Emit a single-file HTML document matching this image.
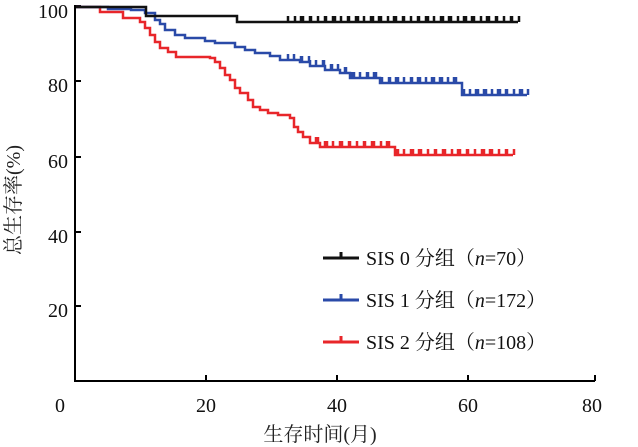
<!DOCTYPE html>
<html><head><meta charset="utf-8"><style>
html,body{margin:0;padding:0;background:#fff;}
svg{display:block;font-family:"Liberation Serif","Noto Serif CJK SC",serif;}
</style></head><body>
<svg id="s" width="638" height="447" viewBox="0 0 638 447" xmlns="http://www.w3.org/2000/svg">
<g stroke="#000" stroke-width="2" fill="none">
<path d="M75,5 V381 H595"/>
<path d="M75,6 h6 M75,81 h6 M75,157 h6 M75,232 h6 M75,306 h6"/>
<path d="M206,381 v-6 M337,381 v-6 M468,381 v-6 M595,381 v-6"/>
</g>
<g font-size="20" fill="#111" text-anchor="end">
<text x="68" y="18">100</text><text x="68" y="92">80</text><text x="68" y="168">60</text><text x="68" y="243">40</text><text x="68" y="317">20</text>
</g>
<g font-size="20" fill="#111" text-anchor="middle">
<text x="60" y="412">0</text><text x="206" y="412">20</text><text x="337" y="412">40</text><text x="468" y="412">60</text><text x="592" y="412">80</text>
</g>
<text x="320" y="441" font-size="20" fill="#222" text-anchor="middle">生存时间(月)</text>
<text transform="translate(20,200) rotate(-90)" font-size="20" fill="#222" text-anchor="middle">总生存率(%)</text>
<g font-size="20" fill="#111">
<path d="M323,258 h36 M341,258 v-6" stroke="#111" stroke-width="3"/>
<text x="366" y="265">SIS 0 分组（<tspan font-style="italic">n</tspan>=70）</text>
<path d="M323,300 h36 M341,300 v-6" stroke="#2a4aa8" stroke-width="3"/>
<text x="366" y="307">SIS 1 分组（<tspan font-style="italic">n</tspan>=172）</text>
<path d="M323,342 h36 M341,342 v-6" stroke="#e8262a" stroke-width="3"/>
<text x="366" y="349">SIS 2 分组（<tspan font-style="italic">n</tspan>=108）</text>
</g>
<g id="curves" fill="none" stroke-width="3"></g>
</svg>
<script>
function step(pts){let d="M"+pts[0][0]+","+pts[0][1];for(let i=1;i<pts.length;i++){d+=" H"+pts[i][0]+" V"+pts[i][1];}return d;}
function yAt(pts,x){let y=pts[0][1];for(const p of pts){if(p[0]<=x)y=p[1];}return y;}
const black=[[76,7],[146,16],[237,22],[518,22]];
const blue=[[76,7],[108,9],[131,10],[145,13],[155,20],[160,24],[165,30],[175,35],[185,38],[205,41],[215,43],[235,47],[245,50],[255,53],[270,56],[280,60],[300,62],[310,66],[325,70],[340,73],[350,78],[380,83],[462,95],[527,95]];
const red=[[76,7],[100,12],[123,18],[140,22],[145,28],[150,35],[155,42],[160,48],[168,52],[176,57],[210,58],[215,62],[220,68],[225,75],[230,80],[235,88],[240,93],[248,100],[253,107],[260,110],[268,113],[278,115],[290,118],[294,127],[298,132],[303,137],[310,143],[320,147],[395,155],[513,155]];
const g=document.getElementById("curves");
function add(pts,c,t0,t1,n){
 let d=step(pts);
 for(let i=0;i<n;i++){const x=Math.round(t0+(t1-t0)*i/(n-1)+((i*37)%5)-2);const y=yAt(pts,x);d+=" M"+x+","+y+" v-6";}
 const p=document.createElementNS("http://www.w3.org/2000/svg","path");p.setAttribute("d",d);p.setAttribute("stroke",c);p.setAttribute("stroke-width","2.5");g.appendChild(p);}
add(red,"#e8262a",305,513,45);
add(blue,"#2a4aa8",290,527,55);
add(black,"#111",290,518,50);
</script>
</body></html>
